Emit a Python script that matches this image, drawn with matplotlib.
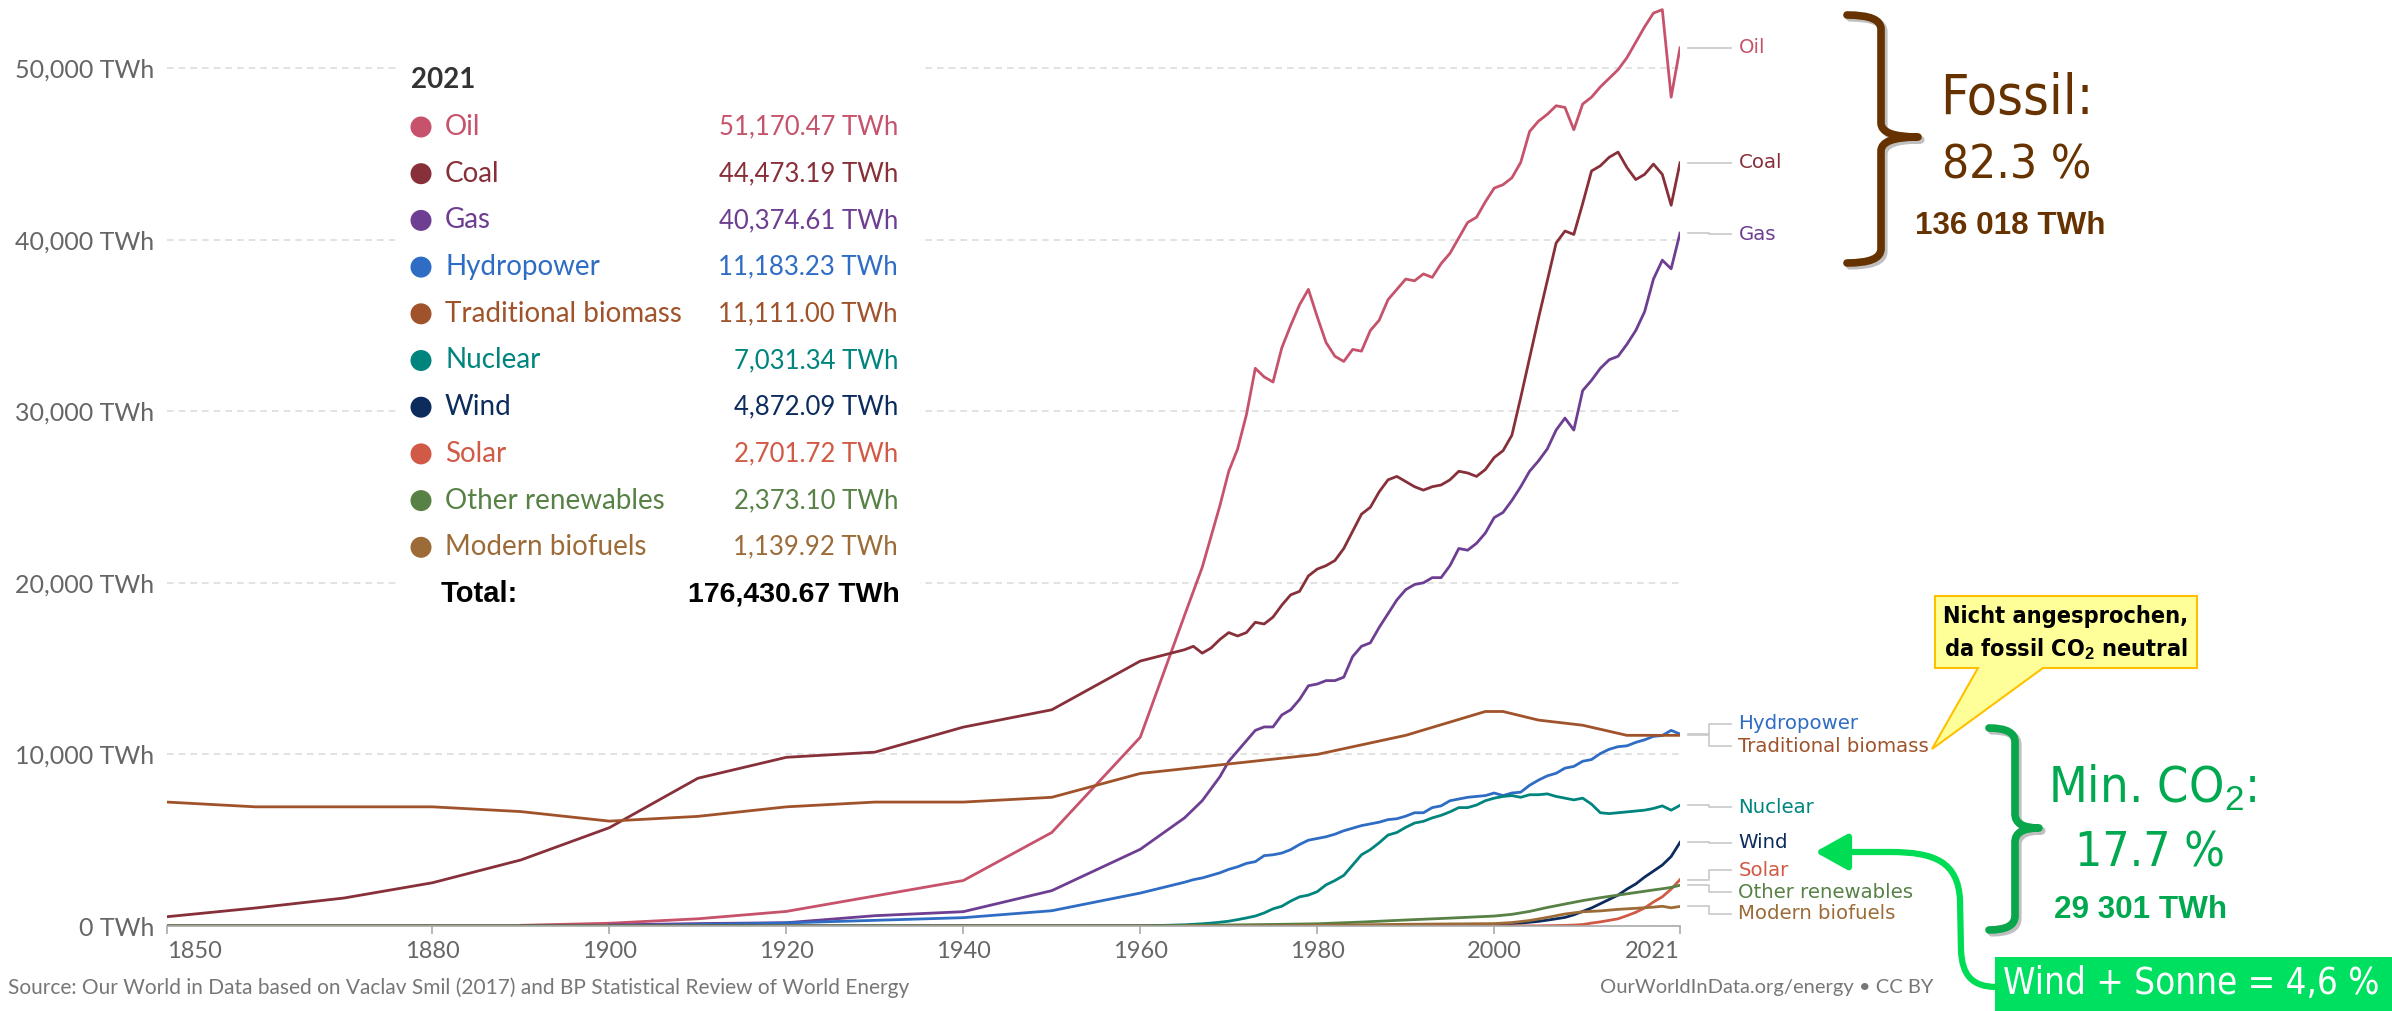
import os

import matplotlib

matplotlib.use("Agg")
import matplotlib.patheffects as pe
import matplotlib.pyplot as plt
import numpy as np
from matplotlib import font_manager
from matplotlib.patches import Circle, FancyArrowPatch, PathPatch, Polygon, Rectangle
from matplotlib.path import Path
from matplotlib.transforms import Affine2D

plt.rcParams["font.family"] = ["Lato", "DejaVu Sans"]
plt.rcParams["mathtext.fontset"] = "custom"
plt.rcParams["mathtext.rm"] = "Liberation Sans"
plt.rcParams["mathtext.bf"] = "Liberation Sans:bold"

ARIAL = ["Liberation Sans", "DejaVu Sans"]
WIDE = ["DejaVu Sans"]

# ---- data (TWh, substitution method) ----
hist_years = [1850, 1860, 1870, 1880, 1890, 1900, 1910, 1920, 1930, 1940, 1950, 1960]
annual_years = np.arange(1965, 2022)

oil_hist = [np.nan, np.nan, np.nan, np.nan, 40, 160, 420, 850, 1750, 2650, 5450, 11000]
oil_annual = [
    18100, 19500, 20900, 22700, 24500, 26500, 27800, 29800, 32500, 32000,
    31700, 33700, 35000, 36200, 37100, 35500, 34000, 33200, 32900, 33600,
    33500, 34700, 35300, 36500, 37100, 37700, 37600, 38000, 37800, 38600,
    39200, 40100, 41000, 41300, 42200, 43000, 43200, 43600, 44500, 46300,
    46900, 47300, 47800, 47700, 46400, 47900, 48300, 48900, 49400, 49900,
    50600, 51500, 52400, 53200, 53400, 48300, 51170.47,
]
coal_hist = [540, 1050, 1630, 2520, 3850, 5730, 8610, 9830, 10130, 11590, 12600, 15440]
coal_annual = [
    16100, 16300, 15900, 16200, 16700, 17100, 16900, 17100, 17700, 17600,
    18000, 18700, 19300, 19500, 20400, 20800, 21000, 21300, 22000, 23000,
    24000, 24400, 25300, 26000, 26200, 25900, 25600, 25400, 25600, 25700,
    26000, 26500, 26400, 26200, 26600, 27300, 27700, 28600, 30800, 33100,
    35400, 37600, 39800, 40500, 40300, 42100, 44000, 44300, 44800, 45100,
    44200, 43500, 43800, 44400, 43800, 42000, 44473.19,
]
gas_hist = [np.nan, np.nan, np.nan, np.nan, np.nan, 60, 142, 190, 600, 835, 2060, 4470]
gas_annual = [
    6300, 6800, 7300, 8000, 8700, 9600, 10200, 10800, 11400, 11600,
    11600, 12300, 12600, 13200, 14000, 14100, 14300, 14300, 14500, 15700,
    16300, 16500, 17400, 18200, 19000, 19600, 19900, 20000, 20300, 20300,
    21000, 22000, 21900, 22300, 22900, 23800, 24100, 24800, 25600, 26500,
    27100, 27800, 28900, 29600, 28900, 31200, 31800, 32500, 33000, 33200,
    33900, 34700, 35800, 37700, 38800, 38300, 40374.61,
]
hydro_hist = [np.nan, np.nan, np.nan, np.nan, np.nan, 17, 90, 180, 330, 485, 890, 1920]
hydro_annual = [
    2550, 2700, 2800, 2950, 3100, 3300, 3450, 3650, 3750, 4100,
    4150, 4250, 4450, 4750, 5000, 5100, 5200, 5350, 5550, 5700,
    5850, 5950, 6050, 6200, 6250, 6400, 6600, 6600, 6900, 7000,
    7300, 7400, 7500, 7550, 7600, 7750, 7600, 7750, 7800, 8200,
    8500, 8750, 8900, 9200, 9300, 9600, 9700, 10050, 10300, 10450,
    10500, 10700, 10850, 11050, 11100, 11400, 11183.23,
]
nuclear_hist = [0, 0, 0, 0, 0, 0, 0, 0, 0, 0, 0, 0]
nuclear_annual = [
    70, 100, 130, 170, 220, 280, 370, 470, 580, 760,
    1000, 1150, 1450, 1700, 1800, 2000, 2400, 2650, 2950, 3550,
    4150, 4450, 4850, 5300, 5450, 5750, 6000, 6100, 6300, 6450,
    6650, 6900, 6900, 7050, 7300, 7450, 7550, 7600, 7500, 7650,
    7650, 7700, 7550, 7450, 7350, 7450, 7100, 6600, 6550, 6600,
    6650, 6700, 6750, 6850, 7000, 6750, 7031.34,
]
trad_years = [1850, 1860, 1870, 1880, 1890, 1900, 1910, 1920, 1930, 1940, 1950, 1960,
              1970, 1980, 1990, 1999, 2001, 2005, 2010, 2015, 2021]
trad_values = [7222, 6944, 6944, 6944, 6667, 6111, 6389, 6944, 7222, 7222, 7500, 8889,
               9444, 10000, 11111, 12500, 12500, 12000, 11700, 11111, 11111.00]
wind_years = [1850, 1990, 1995, 2000, 2003, 2005, 2006, 2007, 2008, 2009, 2010, 2011,
              2012, 2013, 2014, 2015, 2016, 2017, 2018, 2019, 2020, 2021]
wind_values = [0, 10, 25, 85, 170, 270, 340, 420, 500, 650, 850, 1050,
               1300, 1550, 1800, 2150, 2450, 2850, 3200, 3550, 4050, 4872.09]
solar_years = [1850, 2000, 2005, 2008, 2009, 2010, 2011, 2012, 2013, 2014, 2015, 2016,
               2017, 2018, 2019, 2020, 2021]
solar_values = [0, 3, 10, 35, 55, 85, 170, 240, 330, 420, 600, 800,
                1050, 1400, 1700, 2150, 2701.72]
other_years = [1850, 1960, 1965, 1970, 1975, 1980, 1985, 1990, 1995, 2000, 2002, 2004,
               2006, 2008, 2010, 2012, 2014, 2016, 2018, 2019, 2020, 2021]
other_values = [0, 0, 40, 60, 90, 130, 230, 350, 460, 580, 680, 850,
                1080, 1280, 1480, 1650, 1800, 1950, 2100, 2170, 2250, 2373.10]
biofuel_years = [1965, 1975, 1980, 1985, 1990, 1995, 2000, 2002, 2004, 2006, 2008, 2010,
                 2012, 2014, 2016, 2018, 2019, 2020, 2021]
biofuel_values = [0, 10, 40, 70, 100, 120, 140, 200, 320, 500, 700, 830,
                  880, 970, 1030, 1100, 1150, 1060, 1139.92]

sources = ["Oil", "Coal", "Gas", "Hydropower", "Traditional biomass", "Nuclear",
           "Wind", "Solar", "Other renewables", "Modern biofuels"]
colors = ["#c6526b", "#883039", "#6d3e91", "#2f6cc4", "#a0532b", "#00847e",
          "#0c2c5e", "#d05a45", "#578145", "#9c6b38"]
latest_2021 = [51170.47, 44473.19, 40374.61, 11183.23, 11111.00, 7031.34,
               4872.09, 2701.72, 2373.10, 1139.92]
total_2021 = 176430.67
label_values = [51170, 44470, 40300, 11800, 10480, 6930, 4850, 3260, 1980, 700]

y_ticks = [0, 10000, 20000, 30000, 40000, 50000]
x_ticks = [1850, 1880, 1900, 1920, 1940, 1960, 1980, 2000, 2021]

series = {
    "Oil": (hist_years + list(annual_years), oil_hist + oil_annual),
    "Coal": (hist_years + list(annual_years), coal_hist + coal_annual),
    "Gas": (hist_years + list(annual_years), gas_hist + gas_annual),
    "Hydropower": (hist_years + list(annual_years), hydro_hist + hydro_annual),
    "Traditional biomass": (trad_years, trad_values),
    "Nuclear": (hist_years + list(annual_years), nuclear_hist + nuclear_annual),
    "Wind": (wind_years, wind_values),
    "Solar": (solar_years, solar_values),
    "Other renewables": (other_years, other_values),
    "Modern biofuels": (biofuel_years, biofuel_values),
}


def pick_font(candidates):
    files = {os.path.basename(f.fname).lower(): f.fname
             for f in font_manager.fontManager.ttflist}
    for name in candidates:
        if name in files:
            return font_manager.FontProperties(fname=files[name])
    return font_manager.FontProperties(family="Liberation Sans")


narrow_reg = pick_font(["liberationsansnarrow-regular.ttf", "notosans-condensed.ttf",
                        "dejavusanscondensed.ttf", "liberationsans-regular.ttf"])
narrow_bold = pick_font(["liberationsansnarrow-bold.ttf", "notosans-condensedbold.ttf",
                         "dejavusanscondensed-bold.ttf", "liberationsans-bold.ttf"])
arial_bold = pick_font(["liberationsans-bold.ttf"])

W, H = 2392, 1011
fig = plt.figure(figsize=(W / 100, H / 100), dpi=100)
px = Affine2D().scale(1 / W, -1 / H).translate(0, 1) + fig.transFigure

x_left, x_right, y_zero = 167, 1680, 926
ax = fig.add_axes([x_left / W, 1 - y_zero / H, (x_right - x_left) / W, y_zero / H])
ax.set_xlim(1850, 2021)
ax.set_ylim(0, y_zero / 17.16 * 1000)

for name, color in zip(sources, colors):
    yrs, vals = series[name]
    ax.plot(yrs, vals, color=color, lw=2.0, solid_joinstyle="round")

ax.set_yticks(y_ticks, labels=[f"{v:,} TWh" for v in y_ticks])
ax.set_xticks(x_ticks, labels=[str(v) for v in x_ticks])
ax.tick_params(axis="y", length=0, pad=9, labelsize=18, labelcolor="#666666")
ax.tick_params(axis="x", length=6, width=1.2, color="#aaaaaa", pad=5,
               labelsize=17, labelcolor="#666666")
xlabels = ax.get_xticklabels()
xlabels[0].set_horizontalalignment("left")
xlabels[-1].set_horizontalalignment("right")
ax.grid(axis="y", color="#dddddd", linestyle=(0, (4, 3)), lw=1.2)
ax.set_axisbelow(True)
for side in ["top", "right", "left"]:
    ax.spines[side].set_visible(False)
ax.spines["bottom"].set_color("#aaaaaa")
ax.spines["bottom"].set_linewidth(1.2)

# end-of-line labels with connectors
x0, x_elbow, x1, x_text = 2021.9, 2024.3, 2026.8, 2027.6
for name, color, end_val, lab_val in zip(sources, colors, latest_2021, label_values):
    ax.plot([x0, x_elbow, x_elbow, x1], [end_val, end_val, lab_val, lab_val],
            color="#c8c8c8", lw=1.2, clip_on=False)
    ax.text(x_text, lab_val, name, color=color, fontsize=14.2, family=WIDE,
            va="center", ha="left", clip_on=False)

# legend box (2021 values)
fig.add_artist(Rectangle((400, 42), 520, 575, transform=px, facecolor="white",
                         edgecolor="none", zorder=1))
fig.text(411, 80, "2021", transform=px, fontsize=20, fontweight="bold",
         color="#333333", va="center", ha="left")
row_y0, row_step = 127, 46.7
for i, (name, color, val) in enumerate(zip(sources, colors, latest_2021)):
    y = row_y0 + i * row_step
    fig.add_artist(Circle((421, y), 10.5, transform=px, facecolor=color,
                          edgecolor="none", zorder=4))
    fig.text(445, y, name, transform=px, fontsize=20, color=color,
             va="center", ha="left")
    fig.text(898, y, f"{val:,.2f} TWh", transform=px, fontsize=18.5,
             color=color, va="center", ha="right")
total_y = row_y0 + len(sources) * row_step
fig.text(441, total_y, "Total:", transform=px, fontsize=21, fontweight="bold",
         family=ARIAL, color="black", va="center", ha="left")
fig.text(900, total_y, f"{total_2021:,.2f} TWh", transform=px, fontsize=20.5,
         fontweight="bold", family=ARIAL, color="black", va="center", ha="right")

# footer
fig.text(8, 988, "Source: Our World in Data based on Vaclav Smil (2017) and BP "
         "Statistical Review of World Energy", transform=px, fontsize=15,
         color="#777777", va="center", ha="left")
fig.text(1933, 988, "OurWorldInData.org/energy • CC BY", transform=px,
         fontsize=14.5, color="#777777", va="center", ha="right")


def brace(x_hook, x_spine, x_tip, y_top, y_mid, y_bot, color):
    r = 14
    verts = [(x_hook, y_top), (x_spine, y_top), (x_spine, y_top + r),
             (x_spine, y_mid - r), (x_spine, y_mid), (x_tip, y_mid),
             (x_spine, y_mid), (x_spine, y_mid + r),
             (x_spine, y_bot - r), (x_spine, y_bot), (x_hook, y_bot)]
    codes = [Path.MOVETO, Path.CURVE3, Path.CURVE3, Path.LINETO, Path.CURVE3,
             Path.CURVE3, Path.CURVE3, Path.CURVE3, Path.LINETO, Path.CURVE3,
             Path.CURVE3]
    patch = PathPatch(Path(verts, codes), fill=False, edgecolor=color, lw=5.5,
                      capstyle="round", joinstyle="round", transform=px, zorder=5,
                      path_effects=[pe.SimpleLineShadow(offset=(2, -2), alpha=0.25),
                                    pe.Normal()])
    fig.add_artist(patch)


fitted = []


def note(x, y, s, fp, color, width_px, grow=1.0, zorder=6):
    t = fig.text(x, y, s, transform=px, fontproperties=fp, color=color,
                 ha="center", va="center", zorder=zorder)
    t.set_fontsize(30)
    fitted.append((t, width_px * grow))
    return t


fossil_brown = "#663300"
brace(1847, 1881, 1918, 15, 137, 263, fossil_brown)
note(2017, 99, "Fossil:", narrow_reg, fossil_brown, 137, grow=1.12)
note(2017, 166, "82.3 %", narrow_reg, fossil_brown, 133, grow=1.12)
note(2010, 226, "136 018 TWh", arial_bold, fossil_brown, 190)

low_green = "#00a84f"
brace(1989, 2015, 2039, 728, 828, 930, "#0aa64c")
note(2152, 788, r"Min. CO$_\mathrm{2}$:", narrow_reg, low_green, 190, grow=1.1)
note(2150, 853, "17.7 %", narrow_reg, low_green, 134, grow=1.12)
note(2141, 910, "29 301 TWh", arial_bold, low_green, 173)

# callout for traditional biomass
fig.add_artist(Polygon([(1935, 596), (2197, 596), (2197, 668), (2043, 668),
                        (1932, 749), (1978, 668), (1935, 668)], closed=True,
                       transform=px, facecolor="#ffff99", edgecolor="#ffc000",
                       lw=1.5, zorder=5))
note(2066, 617, "Nicht angesprochen,", narrow_bold, "black", 238, grow=1.03)
note(2066, 649, r"da fossil CO$_\mathbf{2}$ neutral", narrow_bold, "black", 236,
     grow=1.03)

# wind + solar box and arrow
fig.add_artist(Rectangle((1995, 957), W - 1995, 54, transform=px,
                         facecolor="#00e060", edgecolor="none", zorder=5))
note(2191, 984, "Wind + Sonne = 4,6 %", narrow_reg, "white", 358, grow=1.05)
arrow_path = Path(
    [(1997, 987), (1972, 987), (1962, 975), (1961, 950), (1960, 900),
     (1958, 862), (1935, 852), (1890, 852), (1815, 852)],
    [Path.MOVETO, Path.CURVE4, Path.CURVE4, Path.CURVE4, Path.LINETO,
     Path.CURVE4, Path.CURVE4, Path.CURVE4, Path.LINETO],
)
fig.add_artist(FancyArrowPatch(path=arrow_path, transform=px,
                               arrowstyle="-|>,head_length=0.9,head_width=0.5",
                               mutation_scale=22, color="#00dd55", lw=4.5,
                               zorder=5))

# scale annotation texts so their widths match the reference
renderer = fig.canvas.get_renderer()
for t, width_px in fitted:
    w = t.get_window_extent(renderer).width
    t.set_fontsize(t.get_fontsize() * width_px / w)

fig.savefig("out.png", dpi=100)
